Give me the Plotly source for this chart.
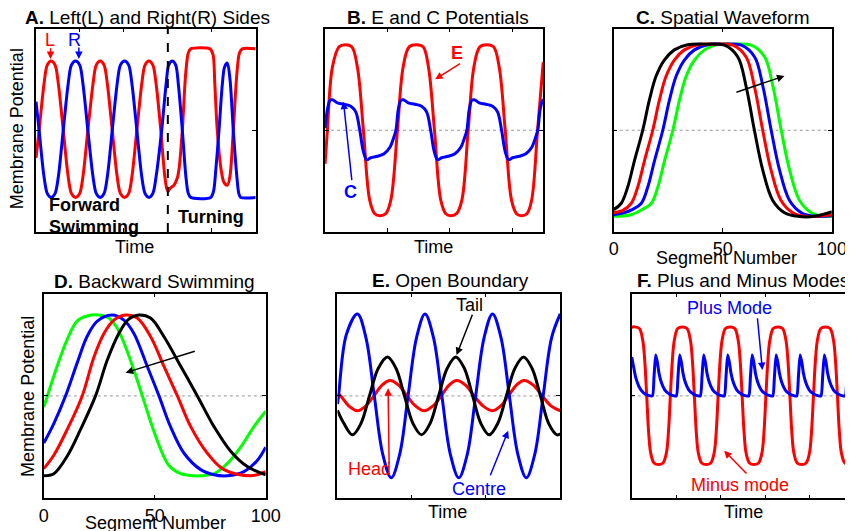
import plotly.graph_objects as go

# Placement calibration: measured page position = 12.5 + 0.976 * svg_x, and svg_y + 8
PAGE_W, PAGE_H = 853, 531
KX, X0, Y0 = 0.976, 12.5, 8.0
W = 862
H = PAGE_H - int(Y0)

# ---------------- Panel A: Left (L) and Right (R) sides ----------------
a_t_L = [0, 1.4, 3.6, 5.1, 6.9, 8.7, 10.2, 12.4, 14.6, 16.1, 18.0, 19.9, 21.4, 23.6, 25.9, 27.4, 29.2, 31.0, 32.5, 34.7,
         36.9, 38.4, 40.3, 42.2, 43.7, 45.9, 48.1, 49.6, 51.4, 53.2, 54.7, 56.8, 58.6, 59.6, 60.2, 61.0, 62.8, 64.3, 65.1,
         66.6, 68.1, 69.3, 70.4, 79.2, 80.6, 81.4, 82.5, 84.2, 85.5, 87.1, 88.3, 89.8, 91.4, 92.6, 93.9, 100]
a_L = [-0.27, 0.0, 0.45, 0.64, 0.68, 0.64, 0.45, 0.0, -0.45, -0.62, -0.66, -0.62, -0.45, 0.0, 0.45, 0.64, 0.68, 0.64, 0.45, 0.0,
       -0.45, -0.62, -0.66, -0.62, -0.45, 0.0, 0.45, 0.64, 0.68, 0.64, 0.45, 0.0, -0.45, -0.58, -0.60, -0.57, -0.54, -0.47, -0.38,
       0.0, 0.55, 0.76, 0.80, 0.80, 0.74, 0.45, 0.0, -0.38, -0.51, -0.54, -0.45, 0.0, 0.55, 0.76, 0.80, 0.80]
a_t_R = [0, 1.4, 3.6, 5.1, 6.9, 8.7, 10.2, 12.4, 14.6, 16.1, 18.0, 19.9, 21.4, 23.6, 25.9, 27.4, 29.2, 31.0, 32.5, 34.7,
         36.9, 38.4, 40.3, 42.2, 43.7, 45.9, 48.1, 49.6, 51.4, 53.2, 54.7, 57.2, 59.2, 60.4, 62.0, 63.6, 64.8, 66.6, 68.2,
         69.3, 70.4, 79.5, 80.8, 81.8, 83.3, 84.8, 85.8, 87.1, 88.3, 89.8, 91.4, 92.3, 93.2, 100]
a_R = [0.28, 0.0, -0.45, -0.62, -0.66, -0.62, -0.45, 0.0, 0.45, 0.64, 0.68, 0.64, 0.45, 0.0, -0.45, -0.62, -0.66, -0.62, -0.45, 0.0,
       0.45, 0.64, 0.68, 0.64, 0.45, 0.0, -0.45, -0.62, -0.66, -0.62, -0.45, 0.0, 0.45, 0.64, 0.68, 0.64, 0.45, 0.0, -0.45,
       -0.62, -0.66, -0.66, -0.60, -0.40, 0.0, 0.45, 0.62, 0.66, 0.50, 0.0, -0.45, -0.62, -0.66, -0.66]
a_turn_time = 60
a_ticks = [20, 40, 60, 80]

# ---------------- Panel B: E and C potentials ----------------
b_t_E = [0, 3.7, 11.8, 22.5, 32.1, 42.8, 51.9, 61.5, 71.7, 79.7, 88.3, 97.4, 105.4, 116.1, 125.2, 134.9, 146.6, 157.3,
         165.9, 175.5, 185.7, 193.7, 201.8, 210.9, 219.4, 229.6, 238.7, 248.3, 259.6, 270.3, 279.4, 289.0, 299.2, 307.2,
         315.2, 323.8, 331.3, 340.9, 350]
b_E = [-0.33, 0, 0.62, 0.82, 0.84, 0.82, 0.62, 0, -0.69, -0.82, -0.84, -0.82, -0.69, 0, 0.62, 0.82, 0.84, 0.82, 0.62, 0,
       -0.69, -0.82, -0.84, -0.82, -0.69, 0, 0.62, 0.82, 0.84, 0.82, 0.62, 0, -0.69, -0.82, -0.84, -0.82, -0.69, 0, 0.67]
b_t_C = [0, 3.7, 8.0, 11.8, 19.8, 30.5, 41.2, 49.2, 55.7, 61.5, 66.9, 73.3, 84.0, 94.7, 104.4, 109.7,
         113.7, 117.4, 121.7, 125.5, 133.5, 144.2, 154.9, 162.9, 169.4, 175.2, 180.6, 187.0, 197.7, 208.4, 218.1, 223.4,
         227.5, 231.2, 235.5, 239.3, 247.3, 258.0, 268.7, 276.7, 283.2, 289.0, 294.4, 300.8, 311.5, 322.2, 331.9, 337.2,
         341.2, 344.9, 349.2, 350]
b_C = [0.02, 0.20, 0.295, 0.30, 0.27, 0.256, 0.236, 0.18, 0, -0.21, -0.29, -0.27, -0.256, -0.23, -0.164, -0.08,
       0, 0.20, 0.295, 0.30, 0.27, 0.256, 0.236, 0.18, 0, -0.21, -0.29, -0.27, -0.256, -0.23, -0.164, -0.08,
       0, 0.20, 0.295, 0.30, 0.27, 0.256, 0.236, 0.18, 0, -0.21, -0.29, -0.27, -0.256, -0.23, -0.164, -0.08,
       0, 0.20, 0.295, 0.30]
b_ticks = [100, 200, 300]

# ---------------- Panel C: spatial waveform ----------------
c_x_k = [0, 3.4, 6.4, 9.5, 13.3, 16.4, 19.4, 23.2, 27.8, 33.9, 42, 50.8, 56.9, 60.7, 64.5, 68.3, 72.9, 78.3, 84.4, 92, 100]
c_k = [-0.78, -0.72, -0.56, -0.30, 0.0, 0.30, 0.53, 0.69, 0.79, 0.84, 0.846, 0.836, 0.72, 0.43, 0.0, -0.39, -0.69, -0.81,
       -0.846, -0.846, -0.80]
c_x_r = [0, 4, 8.0, 11.0, 14.1, 17.9, 21.0, 24.0, 27.8, 32.4, 38.5, 46, 54.6, 60.7, 64.5, 68.3, 72.1, 76.7, 82.1, 88.2, 100]
c_r = [-0.81, -0.79, -0.72, -0.56, -0.30, 0.0, 0.30, 0.53, 0.69, 0.79, 0.84, 0.846, 0.836, 0.72, 0.43, 0.0, -0.39, -0.69,
       -0.81, -0.846, -0.83]
c_x_b = [0, 5, 8.5, 12.6, 15.6, 18.7, 22.5, 25.6, 28.6, 32.4, 37.0, 43.1, 50, 58.5, 64.6, 68.4, 72.2, 76.0, 80.6, 86.0, 92.1, 100]
c_b = [-0.83, -0.81, -0.78, -0.72, -0.56, -0.30, 0.0, 0.30, 0.53, 0.69, 0.79, 0.84, 0.846, 0.836, 0.72, 0.43, 0.0, -0.39,
       -0.69, -0.81, -0.846, -0.84]
c_x_g = [0, 8, 13.0, 17.2, 20.2, 23.3, 27.1, 30.2, 33.2, 37.0, 41.6, 47.0, 54, 63.1, 69.2, 73.0, 76.8, 80.6, 85.2, 90.6, 96.7, 100]
c_g = [-0.846, -0.83, -0.78, -0.72, -0.56, -0.30, 0.0, 0.30, 0.53, 0.69, 0.79, 0.84, 0.846, 0.836, 0.72, 0.43, 0.0, -0.39,
       -0.69, -0.81, -0.846, -0.846]
seg_ticks = [0, 50, 100]
seg_labels = ["0", "50", "100"]

# ---------------- Panel D: backward swimming ----------------
d_x_g = [0, 6.0, 10.5, 15.0, 19.5, 24.8, 29.3, 33.1, 36.8, 40.6, 44.4, 48.1, 51.9, 56.4, 61.7, 67.7, 70.7, 76.7, 82.7, 88.7, 94.7, 100]
d_g = [-0.11, 0.29, 0.55, 0.73, 0.78, 0.79, 0.76, 0.66, 0.48, 0.25, 0.0, -0.25, -0.48, -0.68, -0.76, -0.78, -0.78, -0.76,
       -0.66, -0.50, -0.30, -0.15]
d_x_b = [0, 4.5, 9.8, 15.0, 19.5, 24.1, 30.8, 36.1, 40.6, 46.6, 51.9, 57.1, 63.2, 70.7, 76.7, 82.7, 90.2, 96.2, 100]
d_b = [-0.46, -0.27, 0.0, 0.32, 0.58, 0.73, 0.79, 0.74, 0.61, 0.29, 0.0, -0.30, -0.56, -0.72, -0.77, -0.78, -0.74, -0.63, -0.50]
d_x_r = [0, 4.5, 10.5, 17.3, 22.6, 27.1, 31.6, 36.8, 42.1, 48.1, 54.1, 60.2, 66.2, 73.7, 81.2, 93.2, 100]
d_r = [-0.71, -0.58, -0.33, 0.0, 0.38, 0.61, 0.74, 0.79, 0.76, 0.58, 0.29, 0.0, -0.30, -0.56, -0.72, -0.78, -0.74]
d_x_k = [0, 4.5, 10.5, 16.5, 23.3, 28.6, 33.8, 38.3, 42.9, 48.1, 54.1, 61.7, 69.2, 76.7, 84.2, 91.7, 100]
d_k = [-0.78, -0.76, -0.59, -0.33, 0.0, 0.35, 0.61, 0.75, 0.79, 0.76, 0.58, 0.29, 0.0, -0.30, -0.54, -0.69, -0.77]

# ---------------- Panel E: open boundary ----------------
e_t_centre = [0, 1.5, 12.0, 26.9, 38.3, 49.6, 61.0, 72.4, 83.8, 95.1, 106.5, 117.9, 129.3, 140.6, 152.0, 163.4, 174.8,
              186.1, 197.5, 208.8, 220.2, 231.5, 242.9, 254.3, 265.7, 277.0, 288.4, 300]
e_centre = [-0.08, 0, 0.60, 0.80, 0.57, 0, -0.57, -0.80, -0.57, 0, 0.57, 0.80, 0.57, 0, -0.57, -0.80, -0.57, 0, 0.57, 0.80,
            0.57, 0, -0.57, -0.80, -0.57, 0, 0.57, 0.80]
e_t_tail = [0, 8.8, 20.2, 31.6, 43.1, 55.0, 67.4, 78.8, 90.2, 101.7, 113.2, 124.7, 136.2, 147.8, 159.4, 170.8, 182.0,
            193.2, 204.4, 215.8, 227.4, 239.0, 250.6, 262.0, 273.3, 284.5, 295.8, 300]
e_tail = [-0.14, -0.27, -0.38, -0.27, 0, 0.27, 0.38, 0.27, 0, -0.27, -0.38, -0.27, 0, 0.27, 0.38, 0.27, 0, -0.27, -0.38,
          -0.27, 0, 0.27, 0.38, 0.27, 0, -0.27, -0.38, -0.37]
e_t_head = [0, 4.2, 15.5, 26.9, 38.0, 49.0, 60.0, 70.9, 82.3, 93.8, 105.3, 116.8, 128.3, 139.8, 150.3, 160.7, 172.4,
            184.0, 196.4, 208.8, 219.5, 230.2, 240.9, 251.5, 263.7, 275.8, 287.9, 300]
e_head = [0.02, 0, -0.10, -0.145, -0.10, 0, 0.105, 0.15, 0.105, 0, -0.10, -0.145, -0.10, 0, 0.105, 0.15, 0.105, 0, -0.10,
          -0.145, -0.10, 0, 0.105, 0.15, 0.105, 0, -0.10, -0.145]
e_ticks = [100, 200]

# ---------------- Panel F: plus and minus modes ----------------
f_t_minus = [0, 1.35, 3.45, 4.95, 5.85, 6.75, 7.65, 8.55, 10.05, 12.1,
             14.1, 15.6, 16.5, 17.4, 18.3, 19.2, 20.7, 22.8, 24.9, 26.4, 27.3, 28.2, 29.1, 30.0, 31.5, 33.6,
             35.6, 37.1, 38.0, 38.9, 39.8, 40.7, 42.2, 44.3, 46.4, 47.9, 48.8, 49.7, 50.6, 51.5, 53.0, 55.0,
             57.1, 58.6, 59.5, 60.4, 61.3, 62.2, 63.7, 65.8, 67.9, 69.4, 70.3, 71.2, 72.1, 73.0, 74.5, 76.5,
             78.5, 80.0, 80.9, 81.8, 82.7, 83.6, 85.1, 87.2, 89.3, 90.8, 91.7, 92.6, 93.5, 94.4, 95.9, 98.0, 100]
f_minus = [0.67, 0.674, 0.658, 0.545, 0.35, 0, -0.363, -0.558, -0.655, -0.671,
           -0.655, -0.558, -0.363, 0, 0.35, 0.545, 0.658, 0.674, 0.658, 0.545, 0.35, 0, -0.363, -0.558, -0.655, -0.671,
           -0.655, -0.558, -0.363, 0, 0.35, 0.545, 0.658, 0.674, 0.658, 0.545, 0.35, 0, -0.363, -0.558, -0.655, -0.671,
           -0.655, -0.558, -0.363, 0, 0.35, 0.545, 0.658, 0.674, 0.658, 0.545, 0.35, 0, -0.363, -0.558, -0.655, -0.671,
           -0.655, -0.558, -0.363, 0, 0.35, 0.545, 0.658, 0.674, 0.658, 0.545, 0.35, 0, -0.363, -0.558, -0.655, -0.671,
           -0.66]
f_t_plus = [0, 0.8, 1.8, 3.3, 5.3, 7.5,
            9.3, 10.05, 10.8, 11.55, 12.3, 13.35, 14.85, 16.8, 19.1,
            20.1, 20.85, 21.6, 22.35, 23.1, 24.15, 25.65, 27.6, 29.9,
            30.9, 31.65, 32.4, 33.15, 33.9, 34.95, 36.45, 38.4, 40.7,
            41.7, 42.45, 43.2, 43.95, 44.7, 45.75, 47.25, 49.2, 51.5,
            52.7, 53.45, 54.2, 54.95, 55.7, 56.75, 58.25, 60.2, 62.5,
            63.5, 64.25, 65.0, 65.75, 66.5, 67.55, 69.05, 71.0, 73.3,
            74.3, 75.05, 75.8, 76.55, 77.3, 78.35, 79.85, 81.8, 84.1,
            85.2, 85.95, 86.7, 87.45, 88.2, 89.25, 90.75, 92.7, 95.0,
            96.1, 96.85, 97.6, 98.35, 99.1, 100]
f_plus = [0.38, 0.29, 0.18, 0.09, 0.03, 0.005,
          0, 0.19, 0.40, 0.33, 0.22, 0.13, 0.06, 0.02, 0.0,
          0, 0.19, 0.40, 0.33, 0.22, 0.13, 0.06, 0.02, 0.0,
          0, 0.19, 0.40, 0.33, 0.22, 0.13, 0.06, 0.02, 0.0,
          0, 0.19, 0.40, 0.33, 0.22, 0.13, 0.06, 0.02, 0.0,
          0, 0.19, 0.40, 0.33, 0.22, 0.13, 0.06, 0.02, 0.0,
          0, 0.19, 0.40, 0.33, 0.22, 0.13, 0.06, 0.02, 0.0,
          0, 0.19, 0.40, 0.33, 0.22, 0.13, 0.06, 0.02, 0.0,
          0, 0.19, 0.40, 0.33, 0.22, 0.13, 0.06, 0.02, 0.0,
          0, 0.19, 0.40, 0.33, 0.22, 0.15]

RED, BLUE, GREEN, BLACK = "#ff0000", "#0000ff", "#00ff00", "#000000"
FONT = "Liberation Sans, Arial, Helvetica, sans-serif"
LW = 3
TITLE_SIZE = 19

fig = go.Figure()


def line(x, y, color, ax, smoothing=1.0):
    fig.add_trace(go.Scatter(x=x, y=y, mode="lines", xaxis="x" + ax, yaxis="y" + ax,
                             line=dict(color=color, width=LW, shape="spline", smoothing=smoothing),
                             hoverinfo="skip", showlegend=False))


line(a_t_L, a_L, RED, "", 0.8)
line(a_t_R, a_R, BLUE, "", 0.8)
line(b_t_E, b_E, RED, "2")
line(b_t_C, b_C, BLUE, "2")
line(c_x_g, c_g, GREEN, "3")
line(c_x_b, c_b, BLUE, "3")
line(c_x_r, c_r, RED, "3")
line(c_x_k, c_k, BLACK, "3")
line(d_x_g, d_g, GREEN, "4")
line(d_x_b, d_b, BLUE, "4")
line(d_x_r, d_r, RED, "4")
line(d_x_k, d_k, BLACK, "4")
line(e_t_head, e_head, RED, "5")
line(e_t_centre, e_centre, BLUE, "5")
line(e_t_tail, e_tail, BLACK, "5")
line(f_t_minus, f_minus, RED, "6")
line(f_t_plus, f_plus, BLUE, "6", 0.6)


def sx(px):
    return (px - X0) / KX


def fx(px):
    return sx(px) / W


def fy(py):
    return 1 - (py - Y0) / H


def px_dom(x0, x1):
    return [fx(x0), min(1.0, fx(x1))]


def py_dom(y_top, y_bot):
    return [fy(y_bot), fy(y_top)]


def xaxis(dom, rng, ticks, labels=None):
    d = dict(domain=dom, range=rng, showline=True, linecolor="black", linewidth=1.5, mirror="ticks",
             ticks="inside", ticklen=4, tickwidth=1, tickcolor="black", showgrid=False, zeroline=False,
             tickvals=ticks, fixedrange=True)
    if labels:
        d.update(ticktext=labels, showticklabels=True, tickfont=dict(size=18, color="black", family=FONT))
    else:
        d.update(showticklabels=False)
    return d


def yaxis(dom, anchor, mirror="ticks"):
    return dict(domain=dom, range=[-1, 1], showline=True, linecolor="black", linewidth=1.5, mirror=mirror,
                ticks="inside", ticklen=4, tickwidth=1, tickcolor="black", showgrid=False, zeroline=False,
                tickvals=[0], showticklabels=False, anchor=anchor, fixedrange=True)


top = py_dom(28.5, 232)
bot = py_dom(293.5, 498.3)

fig.update_layout(
    width=W, height=H, margin=dict(l=0, r=0, t=0, b=0), autosize=False,
    paper_bgcolor="white", plot_bgcolor="white",
    font=dict(family=FONT, size=18, color="black"),
    xaxis=dict(xaxis(px_dom(35.5, 255), [0, 100], a_ticks), anchor="y"),
    yaxis=yaxis(top, "x"),
    xaxis2=dict(xaxis(px_dom(324.3, 542.3), [0, 350], b_ticks), anchor="y2"),
    yaxis2=yaxis(top, "x2"),
    xaxis3=dict(xaxis(px_dom(612.7, 830.7), [0, 100], seg_ticks, seg_labels), anchor="y3"),
    yaxis3=yaxis(top, "x3"),
    xaxis4=dict(xaxis(px_dom(43.3, 265), [0, 100], seg_ticks, seg_labels), anchor="y4"),
    yaxis4=yaxis(bot, "x4"),
    xaxis5=dict(xaxis(px_dom(336.7, 559.3), [0, 300], e_ticks), anchor="y5"),
    yaxis5=yaxis(bot, "x5"),
    xaxis6=dict(xaxis(px_dom(630.7, 852.7), [0, 100], a_ticks), anchor="y6"),
    yaxis6=yaxis(bot, "x6", mirror=False),
)

shapes = []
for k in ["2", "3", "4", "5", "6"]:
    shapes.append(dict(type="line", xref="x" + k + " domain", yref="y" + k, x0=0, x1=1, y0=0, y1=0,
                       line=dict(color="#9a9a9a", width=1, dash="dot"), layer="below"))
shapes.append(dict(type="line", xref="x", yref="y domain", x0=a_turn_time, x1=a_turn_time, y0=0, y1=1,
                   line=dict(color="black", width=2, dash="dash")))
fig.update_layout(shapes=shapes)

ann = []


def txt(s, px, py, size=18, color="black", angle=0, xanchor="center"):
    ann.append(dict(text=s, x=fx(px), y=fy(py), xref="paper", yref="paper", showarrow=False,
                    xanchor=xanchor, yanchor="middle", textangle=angle,
                    font=dict(size=size, color=color, family=FONT)))


def arrow(hx, hy, tx, ty, color):
    ann.append(dict(text="", x=fx(hx), y=fy(hy), xref="paper", yref="paper", showarrow=True,
                    ax=(tx - hx) / KX, ay=ty - hy, axref="pixel", ayref="pixel",
                    arrowhead=2, arrowsize=1, arrowwidth=1.5, arrowcolor=color, standoff=0))


# titles
txt("<b>A.</b> Left(L) and Right(R) Sides", 146.7, 17.8, size=TITLE_SIZE)
txt("<b>B.</b> E and C Potentials", 436.7, 17.6, size=TITLE_SIZE)
txt("<b>C.</b> Spatial Waveform", 721.7, 17.6, size=TITLE_SIZE)
txt("<b>D.</b> Backward Swimming", 154, 281.2, size=TITLE_SIZE)
txt("<b>E.</b> Open Boundary", 450, 280.5, size=TITLE_SIZE)
txt("<b>F.</b> Plus and Minus Modes", 742, 280.5, size=TITLE_SIZE)

# axis labels
txt("Time", 134, 247)
txt("Time", 433, 247)
txt("Segment Number", 725, 258)
txt("Segment Number", 155, 523)
txt("Time", 447, 511.7)
txt("Time", 742.5, 511.7)
txt("Membrane Potential", 16.7, 129, angle=-90)
txt("Membrane Potential", 26.7, 396.7, angle=-90)

# panel A notes
txt("L", 49.3, 40, color=RED)
arrow(50, 59, 50, 46.7, RED)
txt("R", 74.3, 40, color=BLUE)
arrow(78.3, 59, 78.3, 46, BLUE)
txt("<b>Forward</b>", 46.7, 205, xanchor="left")
txt("<b>Swimming</b>", 46.7, 226.7, xanchor="left")
txt("<b>Turning</b>", 210.8, 216.7)

# panel B notes
txt("<b>E</b>", 455.8, 53.3, color=RED)
arrow(434.3, 79.3, 460, 62.7, RED)
txt("<b>C</b>", 349.3, 191.7, color=BLUE)
arrow(342.7, 101.7, 351, 181.7, BLUE)

# panel C / D arrows
arrow(783.3, 76, 735, 92.7, BLACK)
arrow(125, 372.7, 194, 350.7, BLACK)

# panel E notes
txt("Tail", 468.3, 305)
arrow(455.7, 355, 471.7, 313.3, BLACK)
txt("Head", 369, 469.3, color=RED)
arrow(387.3, 388.3, 388.3, 465, RED)
txt("Centre", 477.7, 489.3, color=BLUE)
arrow(507.3, 430.7, 489.3, 476.7, BLUE)

# panel F notes
txt("Plus Mode", 728, 308.3, color=BLUE)
arrow(761.3, 370, 756.3, 316.7, BLUE)
txt("Minus mode", 739, 485, color=RED)
arrow(723, 450.7, 746.3, 475, RED)

fig.update_layout(annotations=ann)

fig.write_html("out.html")
